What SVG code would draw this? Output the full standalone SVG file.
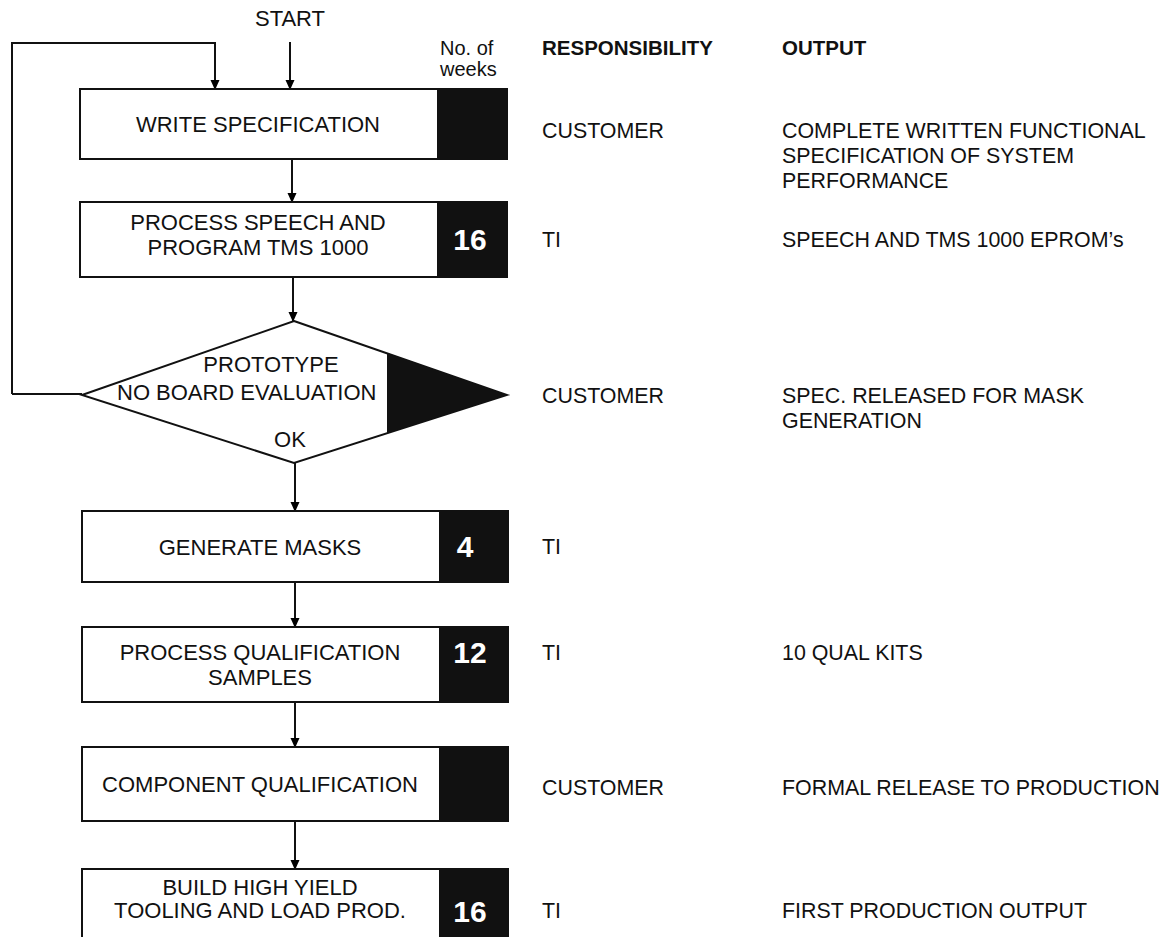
<svg xmlns="http://www.w3.org/2000/svg" width="1171" height="937" viewBox="0 0 1171 937">
<defs>
<marker id="ah" markerWidth="10" markerHeight="16" refX="9" refY="4.5" orient="auto" markerUnits="userSpaceOnUse" viewBox="0 0 10 9">
<path d="M0,0 L10,4.5 L0,9 Z" fill="#000"/>
</marker>
<style>
text{font-family:"Liberation Sans",Arial,sans-serif;fill:#111;}
.t{font-size:22px;}
.r{font-size:21.4px;}
.c{text-anchor:middle;}
.h{font-size:20.5px;font-weight:bold;}
.n{font-size:30px;font-weight:bold;fill:#fff;text-anchor:middle;}
.box{fill:#fff;stroke:#111;stroke-width:2;}
.blk{fill:#111;}
.ln{fill:none;stroke:#111;stroke-width:2;}
.ar{fill:none;stroke:#111;stroke-width:2;marker-end:url(#ah);}
</style>
</defs>
<rect width="1171" height="937" fill="#fff"/>

<g id="headers">
<text class="t c" x="290" y="26">START</text>
<text class="t" x="440" y="55" style="font-size:20px">No. of</text>
<text class="t" x="440" y="76" style="font-size:20px">weeks</text>
<text class="h" x="542" y="55">RESPONSIBILITY</text>
<text class="h" x="782" y="55">OUTPUT</text>
</g>

<g id="connectors">
<path class="ar" d="M290,42 L290,89"/>
<path class="ar" d="M12,394 L82,394 M12,394 L12,43 L215,43 L215,89"/>
<path class="ar" d="M292,159 L292,202"/>
<path class="ar" d="M293,277 L293,321"/>
<path class="ar" d="M295,463 L295,511"/>
<path class="ar" d="M295,582 L295,627"/>
<path class="ar" d="M295,702 L295,747"/>
<path class="ar" d="M295,821 L295,869"/>
</g>

<g id="n1">
<rect class="box" x="80" y="89" width="427" height="70"/>
<rect class="blk" x="437" y="89" width="70" height="70"/>
<text class="t c" x="258" y="132">WRITE SPECIFICATION</text>
<text class="r" x="542" y="138">CUSTOMER</text>
<text class="r" x="782" y="138">COMPLETE WRITTEN FUNCTIONAL</text>
<text class="r" x="782" y="163">SPECIFICATION OF SYSTEM</text>
<text class="r" x="782" y="188">PERFORMANCE</text>
</g>

<g id="n2">
<rect class="box" x="80" y="202" width="427" height="75"/>
<rect class="blk" x="437" y="202" width="70" height="75"/>
<text class="t c" x="258" y="230">PROCESS SPEECH AND</text>
<text class="t c" x="258" y="255">PROGRAM TMS 1000</text>
<text class="n" x="470" y="250">16</text>
<text class="r" x="542" y="247">TI</text>
<text class="r" x="782" y="247">SPEECH AND TMS 1000 EPROM’s</text>
</g>

<g id="n3">
<polygon class="box" points="294,321 507,395 294,463 82,395"/>
<polygon class="blk" points="387,353 507,395 387,433"/>
<text class="t c" x="271" y="372">PROTOTYPE</text>
<text class="t" x="117" y="400">NO</text>
<text class="t" x="156" y="400">BOARD EVALUATION</text>
<text class="t c" x="290" y="447">OK</text>
<text class="r" x="542" y="403">CUSTOMER</text>
<text class="r" x="782" y="403">SPEC. RELEASED FOR MASK</text>
<text class="r" x="782" y="428">GENERATION</text>
</g>

<g id="n4">
<rect class="box" x="82" y="511" width="426" height="71"/>
<rect class="blk" x="439" y="511" width="69" height="71"/>
<text class="t c" x="260" y="555">GENERATE MASKS</text>
<text class="n" x="465" y="557">4</text>
<text class="r" x="542" y="554">TI</text>
</g>

<g id="n5">
<rect class="box" x="82" y="627" width="426" height="75"/>
<rect class="blk" x="439" y="627" width="69" height="75"/>
<text class="t c" x="260" y="660">PROCESS QUALIFICATION</text>
<text class="t c" x="260" y="685">SAMPLES</text>
<text class="n" x="470" y="663">12</text>
<text class="r" x="542" y="660">TI</text>
<text class="r" x="782" y="660">10 QUAL KITS</text>
</g>

<g id="n6">
<rect class="box" x="82" y="747" width="426" height="74"/>
<rect class="blk" x="439" y="747" width="69" height="74"/>
<text class="t c" x="260" y="792">COMPONENT QUALIFICATION</text>
<text class="r" x="542" y="795">CUSTOMER</text>
<text class="r" x="782" y="795">FORMAL RELEASE TO PRODUCTION</text>
</g>

<g id="n7">
<rect class="box" x="82" y="869" width="426" height="80"/>
<rect class="blk" x="439" y="869" width="69" height="80"/>
<text class="t c" x="260" y="895">BUILD HIGH YIELD</text>
<text class="t c" x="260" y="918">TOOLING AND LOAD PROD.</text>
<text class="n" x="470" y="922">16</text>
<text class="r" x="542" y="918">TI</text>
<text class="r" x="782" y="918">FIRST PRODUCTION OUTPUT</text>
</g>
</svg>
